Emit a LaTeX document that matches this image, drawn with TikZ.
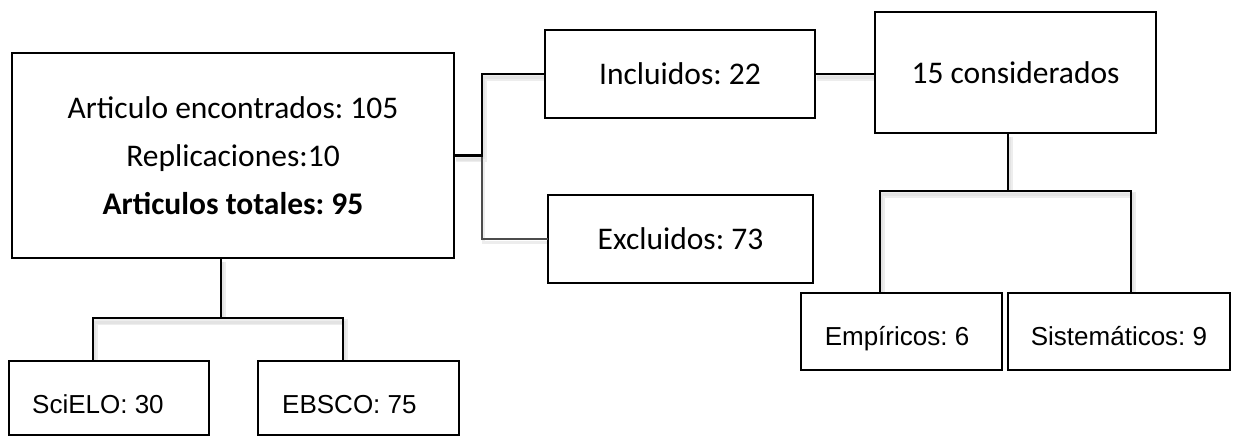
\documentclass[tikz,border=0pt]{standalone}
\usepackage{fontspec}
\setmainfont{Carlito}
\newfontfamily\arialf{Liberation Sans}
\usetikzlibrary{calc}
\frenchspacing
\tikzset{
  box/.style={draw=black, line width=2pt, fill=white, inner sep=0pt},
  cal/.style={font=\fontsize{31.5}{48}\selectfont},
  ari/.style={font=\arialf\fontsize{26}{30}\selectfont, inner sep=0pt},
  conn/.style={draw=black, line width=2.8pt},
  thinconn/.style={draw=black!70, line width=1.1pt},
  shadline/.style={draw=black!7, line width=6pt, postaction={draw=black!11, line width=3pt}}
}
\begin{document}
\begin{tikzpicture}[x=1pt,y=1pt]
\useasboundingbox (0,0) rectangle (1235,437);
\coordinate (jA) at (482,281.5);
\coordinate (jM) at (221,119);
\coordinate (jM1) at (93,119);
\coordinate (jM2) at (343,119);
\coordinate (jC) at (1008,246);
\coordinate (jC1) at (880,246);
\coordinate (jC2) at (1131,246);
% box positions
\path (233,281.5) node[minimum width=442pt, minimum height=205pt, inner sep=0pt] (main) {};
\path (680,363) node[minimum width=270pt, minimum height=88pt, inner sep=0pt] (incl) {};
\path (1015.5,364.5) node[minimum width=281pt, minimum height=121pt, inner sep=0pt] (cons) {};
\path (680.5,198) node[minimum width=265pt, minimum height=88pt, inner sep=0pt] (excl) {};
\path (109,39) node[minimum width=200pt, minimum height=74pt, inner sep=0pt] (sci) {};
\path (358.5,39) node[minimum width=201pt, minimum height=74pt, inner sep=0pt] (ebs) {};
\path (901.5,105.5) node[minimum width=201pt, minimum height=77pt, inner sep=0pt] (emp) {};
\path (1119,105.5) node[minimum width=222pt, minimum height=77pt, inner sep=0pt] (sis) {};
% soft shadows of connectors
\begin{scope}[transform canvas={xshift=1.5pt,yshift=-4pt}]
\draw[shadline] (main.east) -- (jA) |- (incl.west);
\draw[draw=black!7, line width=3pt] (jA) |- (excl.west);
\draw[shadline] (incl.east) -- (cons.west |- incl.east);
\draw[shadline] (cons.south -| jC) -- (jC);
\draw[shadline] (jC1 |- emp.north) -- (jC1) -- (jC2) -- (jC2 |- sis.north);
\draw[shadline] (main.south -| jM) -- (jM);
\draw[shadline] (jM1 |- sci.north) -- (jM1) -- (jM2) -- (jM2 |- ebs.north);
\end{scope}
% boxes
\node[box, cal, minimum width=442pt, minimum height=205pt, align=center] (mainbox) at (main)
  {Articulo encontrados: 105\\Replicaciones:10\\\textbf{Articulos totales: 95}};
\node[box, cal, minimum width=270pt, minimum height=88pt] (inclbox) at (incl) {Incluidos: 22};
\node[box, cal, minimum width=281pt, minimum height=121pt] (consbox) at (cons) {15 considerados};
\node[box, cal, minimum width=265pt, minimum height=88pt] (exclbox) at (excl) {Excluidos: 73};
\node[box, minimum width=200pt, minimum height=74pt] (scibox) at (sci) {};
\node[box, minimum width=201pt, minimum height=74pt] (ebsbox) at (ebs) {};
\node[box, minimum width=201pt, minimum height=77pt] (empbox) at (emp) {};
\node[box, minimum width=222pt, minimum height=77pt] (sisbox) at (sis) {};
\node[ari, anchor=base west] (scit) at (32,24) {SciELO: 30};
\node[ari, anchor=base west] (ebst) at (282,24) {EBSCO: 75};
\node[ari, anchor=base] (empt) at (897,92) {Empíricos: 6};
\node[ari, anchor=base] (sist) at (1119,92) {Sistemáticos: 9};
% connectors
\draw[thinconn] (jA) |- (excl.west);
\draw[conn] (main.east) -- (jA) |- (incl.west);
\draw[conn] (incl.east) -- (cons.west |- incl.east);
\draw[conn] (cons.south -| jC) -- (jC);
\draw[conn] (jC1 |- emp.north) -- (jC1) -- (jC2) -- (jC2 |- sis.north);
\draw[conn] (main.south -| jM) -- (jM);
\draw[conn] (jM1 |- sci.north) -- (jM1) -- (jM2) -- (jM2 |- ebs.north);
\end{tikzpicture}
\end{document}
